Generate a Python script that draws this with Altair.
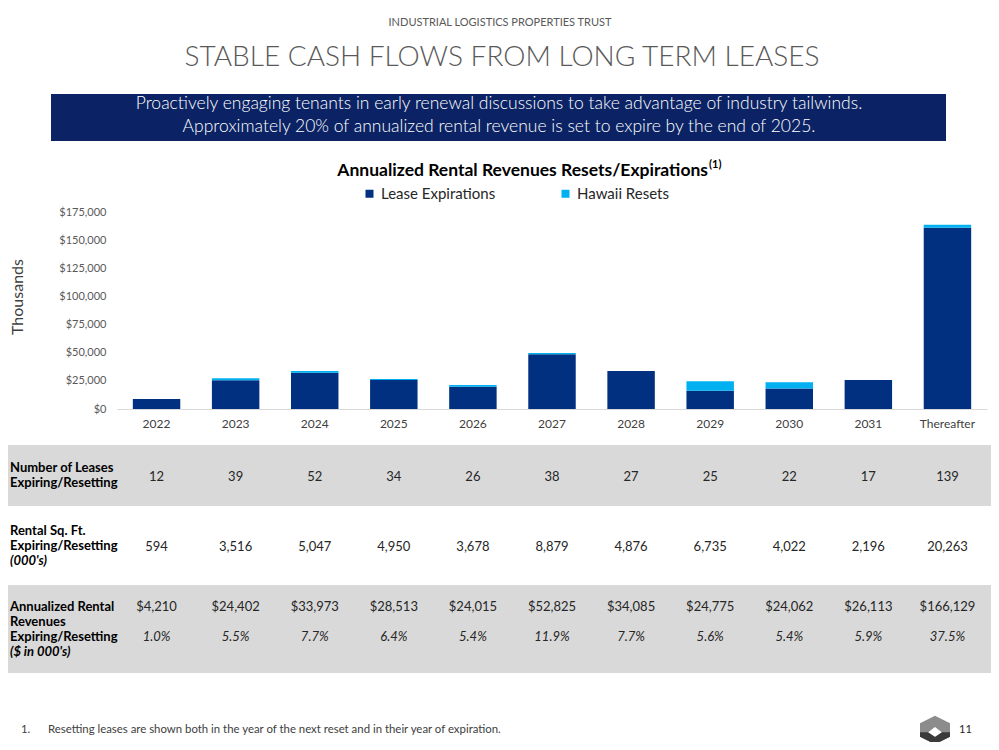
import altair as alt
import pandas as pd

# ---------------- data ----------------
categories = ["2022", "2023", "2024", "2025", "2026", "2027", "2028", "2029", "2030", "2031", "Thereafter"]
lease_expirations = [8900, 25500, 32300, 25800, 19800, 48600, 33800, 16300, 18100, 25800, 161000]
hawaii_resets = [0, 1800, 1500, 900, 1500, 1200, 0, 8300, 5600, 0, 2700]
series_names = ["Lease Expirations", "Hawaii Resets"]
series_colors = ["#00307f", "#00b0f0"]
y_ticks = [0, 25000, 50000, 75000, 100000, 125000, 150000, 175000]

num_leases = ["12", "39", "52", "34", "26", "38", "27", "25", "22", "17", "139"]
rental_sqft = ["594", "3,516", "5,047", "4,950", "3,678", "8,879", "4,876", "6,735", "4,022", "2,196", "20,263"]
annual_revenue = ["$4,210", "$24,402", "$33,973", "$28,513", "$24,015", "$52,825",
                  "$34,085", "$24,775", "$24,062", "$26,113", "$166,129"]
revenue_pct = ["1.0%", "5.5%", "7.7%", "6.4%", "5.4%", "11.9%", "7.7%", "5.6%", "5.4%", "5.9%", "37.5%"]

header_text = "INDUSTRIAL LOGISTICS PROPERTIES TRUST"
title_text = "STABLE CASH FLOWS FROM LONG TERM LEASES"
banner_lines = [
    "Proactively engaging tenants in early renewal discussions to take advantage of industry tailwinds.",
    "Approximately 20% of annualized rental revenue is set to expire by the end of 2025.",
]
chart_title = "Annualized Rental Revenues Resets/Expirations"
footnote = "Resetting leases are shown both in the year of the next reset and in their year of expiration."

FONT = "Lato"
W, H = 870, 197
PAD_L, PAD_T = 109, 204
OX, OY = 117, 212  # page position of plot origin


def X(px):
    return px - OX


def Y(py):
    return py - OY


# ---------------- tables ----------------
rows = []
for c, a, b in zip(categories, lease_expirations, hawaii_resets):
    rows.append({"cat": c, "series": series_names[0], "value": a, "ord": 0})
    rows.append({"cat": c, "series": series_names[1], "value": b, "ord": 1})
bar_df = pd.DataFrame(rows)

one = pd.DataFrame({"d": [0]})

xscale = alt.Scale(domain=categories, paddingInner=0.4, paddingOuter=0.2)

bars = alt.Chart(bar_df).mark_bar().encode(
    x=alt.X("cat:N", sort=categories, scale=xscale, title=None,
            axis=alt.Axis(labelAngle=0, ticks=False, domainColor="#d9d9d9", domainWidth=1,
                          labelPadding=9, labelFontSize=12, labelColor="#404040", labelFont=FONT)),
    y=alt.Y("value:Q", stack="zero", title=None,
            scale=alt.Scale(domain=[0, 175000], nice=False),
            axis=alt.Axis(values=y_ticks, format="$,.0f", ticks=False, domain=False, grid=False,
                          labelPadding=11, labelFontSize=11, labelColor="#595959", labelFont=FONT)),
    color=alt.Color("series:N", scale=alt.Scale(domain=series_names, range=series_colors),
                    legend=alt.Legend(orient="none", legendX=X(362), legendY=Y(186), direction="horizontal",
                                      title=None, symbolType="square", symbolSize=64, symbolStrokeWidth=0,
                                      labelFontSize=15, labelFont=FONT, labelColor="#262626",
                                      columnPadding=62, labelOffset=4, padding=0)),
    order=alt.Order("ord:Q"),
)


def rect(x1, x2, y1, y2, color):
    return alt.Chart(one).mark_rect(color=color).encode(
        x=alt.value(X(x1)), x2=alt.value(X(x2)), y=alt.value(Y(y1)), y2=alt.value(Y(y2)))


def label(txt, px, py, size, color="#000000", weight="normal", style="normal", align="left", font=FONT, angle=0):
    kw = dict(text=txt, fontSize=size, color=color, fontWeight=weight, fontStyle=style,
              align=align, baseline="middle", font=font)
    if angle:
        kw["angle"] = angle
    return alt.Chart(one).mark_text(**kw).encode(x=alt.value(X(px)), y=alt.value(Y(py)))


def row_values(values, py, style="normal"):
    df = pd.DataFrame({"cat": categories, "val": values})
    return alt.Chart(df).mark_text(fontSize=13, font=FONT, color="#262626", fontStyle=style,
                                   baseline="middle").encode(
        x=alt.X("cat:N", sort=categories, scale=xscale, title=None),
        y=alt.value(Y(py)),
        text="val:N",
    )


LBL = 13
LX = 10
layers = [
    rect(8, 991, 445, 506, "#d9d9d9"),
    rect(8, 991, 585, 673, "#d9d9d9"),
    rect(51, 946, 94, 141, "#0b2364"),
    label(header_text, 500, 23, 11, color="#595959", align="center"),
    label(title_text, 502, 58, 28, color="#595959", weight=300, align="center"),
    label(banner_lines[0], 499, 104, 17.5, color="#ffffff", weight=300, align="center"),
    label(banner_lines[1], 499, 127, 17.5, color="#ffffff", weight=300, align="center"),
    label(chart_title, 708, 171, 17.5, weight="bold", align="right"),
    label("(1)", 709, 165, 11, weight="bold"),
    label("Thousands", 18, 297, 16, color="#404040", angle=270, align="center"),
    bars,
    # table labels
    label("Number of Leases", LX, 468, LBL, weight="bold"),
    label("Expiring/Resetting", LX, 483, LBL, weight="bold"),
    label("Rental Sq. Ft.", LX, 531, LBL, weight="bold"),
    label("Expiring/Resetting", LX, 546, LBL, weight="bold"),
    label("(000's)", LX, 561, LBL, weight="bold", style="italic"),
    label("Annualized Rental", LX, 606.5, LBL, weight="bold"),
    label("Revenues", LX, 621.5, LBL, weight="bold"),
    label("Expiring/Resetting", LX, 636.5, LBL, weight="bold"),
    label("($ in 000's)", LX, 651.5, LBL, weight="bold", style="italic"),
    row_values(num_leases, 476.7),
    row_values(rental_sqft, 547.3),
    row_values(annual_revenue, 606.7),
    row_values(revenue_pct, 637.3, style="italic"),
    # footer
    label("1.", 21, 730, 11.4, color="#404040"),
    label(footnote, 48, 730, 11.4, color="#404040"),
    label("11", 959, 730, 11, color="#262626"),
]

# logo (decorative)
logo_hex = "M0,-0.95 L1,-0.45 L1,0.45 L0,0.95 L-1,0.45 L-1,-0.45 Z"
logo_dark = "M-1,0.15 L-0.45,0.15 L0,0.45 L0.45,0.15 L1,0.15 L1,0.45 L0,0.95 L-1,0.45 Z"
logo_hole = "M0,-0.2 L0.45,0.15 L0,0.45 L-0.45,0.15 Z"
for shp, col in [(logo_hex, "#8c8c8c"), (logo_dark, "#3a3a3a"), (logo_hole, "#ffffff")]:
    layers.append(alt.Chart(one).mark_point(shape=shp, size=900, filled=True, color=col, opacity=1,
                                            strokeWidth=0).encode(
        x=alt.value(X(935)), y=alt.value(Y(730))))

chart = alt.layer(*layers).properties(
    width=W, height=H,
    autosize=alt.AutoSizeParams(type="none"),
    padding={"left": PAD_L, "top": PAD_T, "right": 983 - PAD_L - W, "bottom": 734 - PAD_T - H},
    background="#ffffff",
).configure_view(stroke=None)

chart.save("out.html", embed_options={"renderer": "svg", "actions": False})
